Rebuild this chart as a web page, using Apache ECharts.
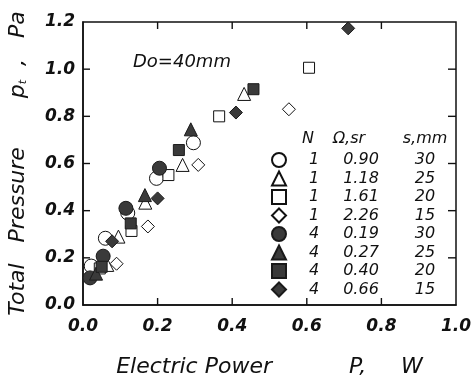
<!DOCTYPE html>
<html>
<head>
<meta charset="utf-8">
<script src="https://cdn.jsdelivr.net/npm/echarts@6/dist/echarts.min.js"></script>
<style>
  html, body { margin: 0; padding: 0; background: #fff; }
  #chart { width: 471px; height: 379px; }
</style>
</head>
<body>
<div id="chart"></div>
<script>
// legend columns
var nList = ['1', '1', '1', '1', '4', '4', '4', '4'];
var omegaList = ['0.90', '1.18', '1.61', '2.26', '0.19', '0.27', '0.40', '0.66'];
var sList = ['30', '25', '20', '15', '30', '25', '20', '15'];

// axis ranges and inner tick values
var xMax = 1.0;
var yMax = 1.2;
var xTickValues = [0.2, 0.4, 0.6, 0.8];
var yTickValues = [0.2, 0.4, 0.6, 0.8, 1.0];

// points [P (W), pt (Pa)] for each series
var openCircle = [[0.022, 0.165], [0.060, 0.283], [0.120, 0.390], [0.197, 0.537], [0.296, 0.688]];
var openTriangle = [[0.065, 0.170], [0.095, 0.290], [0.167, 0.434], [0.267, 0.594], [0.432, 0.895]];
var openSquare = [[0.045, 0.155], [0.130, 0.314], [0.229, 0.551], [0.365, 0.800], [0.606, 1.006]];
var openDiamond = [[0.090, 0.175], [0.174, 0.333], [0.309, 0.594], [0.552, 0.830]];
var filledCircle = [[0.019, 0.115], [0.054, 0.207], [0.115, 0.410], [0.205, 0.580]];
var filledTriangle = [[0.035, 0.133], [0.166, 0.466], [0.289, 0.745]];
var filledSquare = [[0.050, 0.162], [0.128, 0.346], [0.257, 0.657], [0.457, 0.915]];
var filledDiamond = [[0.078, 0.270], [0.200, 0.452], [0.410, 0.816], [0.711, 1.173]];

var seriesData = [openCircle, openTriangle, openSquare, openDiamond,
  filledCircle, filledTriangle, filledSquare, filledDiamond];
var symbols = ['circle', 'triangle', 'rect', 'diamond', 'circle', 'triangle', 'rect', 'diamond'];
var sizes = [14, 13, 11, 13, 14, 13, 11, 13];

var font = 'DejaVu Sans';
var lineColor = '#111';
var tickLen = 7;
var tickW = 1.4;
var chart = echarts.init(document.getElementById('chart'));

var names = [];
var series = [];
for (var i = 0; i < seriesData.length; i++) {
  var name = nList[i] + '|' + omegaList[i] + '|' + sList[i];
  var filled = i >= 4;
  names.push(name);
  series.push({
    name: name,
    type: 'scatter',
    data: seriesData[i],
    symbol: symbols[i],
    symbolSize: sizes[i],
    itemStyle: {
      color: filled ? '#3a3a3a' : '#ffffff',
      borderColor: filled ? '#1a1a1a' : '#111111',
      borderWidth: 1,
      opacity: 1
    },
    emphasis: { disabled: true },
    z: filled ? 3 : 2
  });
}

// inward ticks on the four sides of the frame, as thin rect symbols
function tickSeries(data, size, offset) {
  return {
    type: 'scatter',
    silent: true,
    clip: false,
    data: data,
    symbol: 'rect',
    symbolSize: size,
    symbolOffset: offset,
    itemStyle: { color: lineColor, borderWidth: 0, opacity: 1 },
    emphasis: { disabled: true },
    z: 4
  };
}
series.push(tickSeries(xTickValues.map(function (v) { return [v, 0]; }), [tickW, tickLen], [0, -tickLen / 2]));
series.push(tickSeries(xTickValues.map(function (v) { return [v, yMax]; }), [tickW, tickLen], [0, tickLen / 2]));
series.push(tickSeries(yTickValues.map(function (v) { return [0, v]; }), [tickLen, tickW], [tickLen / 2, 0]));
series.push(tickSeries(yTickValues.map(function (v) { return [xMax, v]; }), [tickLen + 1, tickW], [-(tickLen + 1) / 2, 0]));

var tickLabel = {
  fontFamily: font,
  fontStyle: 'italic',
  fontWeight: 'bold',
  fontSize: 17,
  color: '#111'
};

var option = {
  backgroundColor: '#fff',
  animation: false,
  grid: {
    left: 83, top: 22, width: 373, height: 283,
    containLabel: false, outerBoundsMode: 'none',
    show: true, borderColor: lineColor, borderWidth: 1.5, backgroundColor: 'rgba(0,0,0,0)'
  },
  xAxis: {
    type: 'value',
    min: 0, max: xMax, interval: 0.2,
    name: 'Electric Power           P,     W',
    nameLocation: 'middle',
    nameGap: 62,
    nameTextStyle: { fontFamily: font, fontStyle: 'italic', fontSize: 22, color: '#111', verticalAlign: 'middle' },
    axisLine: { show: true, onZero: false, lineStyle: { color: lineColor, width: 1.5 } },
    axisTick: { show: false },
    axisLabel: Object.assign({ margin: 13, formatter: function (v) { return v.toFixed(1); } }, tickLabel),
    splitLine: { show: false }
  },
  yAxis: {
    type: 'value',
    min: 0, max: yMax, interval: 0.2,
    name: 'Total   Pressure       p{sub|t}  ,   Pa',
    nameLocation: 'middle',
    nameGap: 65,
    nameTextStyle: {
      fontFamily: font, fontStyle: 'italic', fontSize: 22, color: '#111', verticalAlign: 'middle',
      rich: { sub: { fontFamily: font, fontStyle: 'italic', fontSize: 11, color: '#111', verticalAlign: 'bottom' } }
    },
    axisLine: { show: true, onZero: false, lineStyle: { color: lineColor, width: 1.5 } },
    axisTick: { show: false },
    axisLabel: Object.assign({ margin: 8, formatter: function (v) { return v.toFixed(1); } }, tickLabel),
    splitLine: { show: false }
  },
  legend: {
    data: names,
    orient: 'vertical',
    left: 266,
    top: 147,
    itemWidth: 14,
    itemHeight: 14,
    itemGap: 2.5,
    selectedMode: false,
    formatter: function (name) {
      var p = name.split('|');
      return '{n|' + p[0] + '}{o|' + p[1] + '}{s|' + p[2] + '}';
    },
    textStyle: {
      rich: {
        n: { width: 46, align: 'center', fontFamily: font, fontStyle: 'italic', fontSize: 16, lineHeight: 14, color: '#111' },
        o: { width: 48, align: 'center', fontFamily: font, fontStyle: 'italic', fontSize: 16, lineHeight: 14, color: '#111' },
        s: { width: 80, align: 'center', fontFamily: font, fontStyle: 'italic', fontSize: 16, lineHeight: 14, color: '#111' }
      }
    }
  },
  graphic: [
    { type: 'text', x: 133, y: 62, style: { text: 'Do=40mm', font: 'italic 18px "DejaVu Sans"', fill: '#111', verticalAlign: 'middle' } },
    { type: 'text', x: 308, y: 139, style: { text: 'N', font: 'italic 16px "DejaVu Sans"', fill: '#111', align: 'center', verticalAlign: 'middle' } },
    { type: 'text', x: 349, y: 139, style: { text: 'Ω,sr', font: 'italic 16px "DejaVu Sans"', fill: '#111', align: 'center', verticalAlign: 'middle' } },
    { type: 'text', x: 425, y: 139, style: { text: 's,mm', font: 'italic 16px "DejaVu Sans"', fill: '#111', align: 'center', verticalAlign: 'middle' } }
  ],
  series: series
};

chart.setOption(option);
</script>
</body>
</html>
